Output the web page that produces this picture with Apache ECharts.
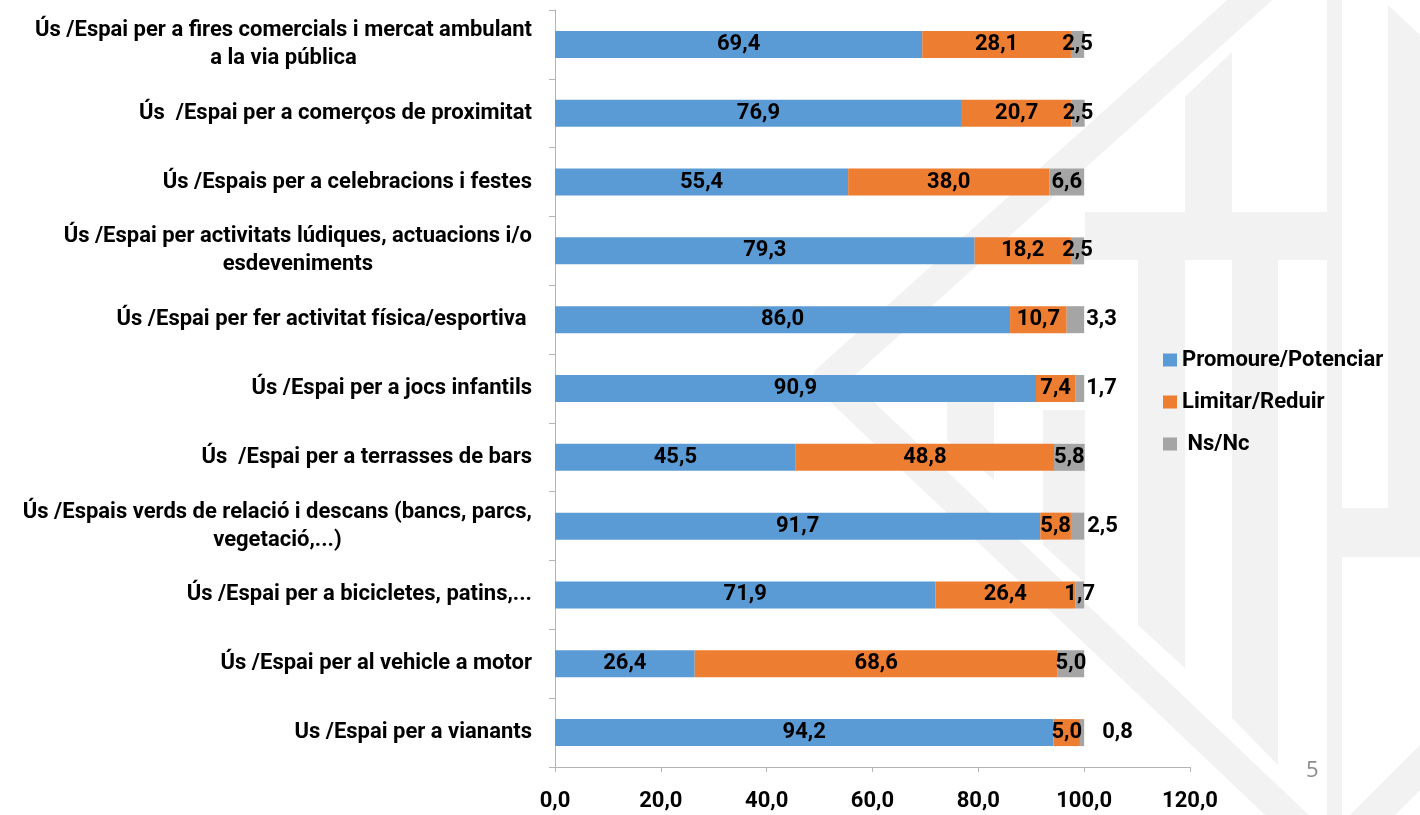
<!DOCTYPE html>
<html>
<head>
<meta charset="utf-8">
<script src="https://cdn.jsdelivr.net/npm/echarts@6/dist/echarts.min.js"></script>
<style>
  html, body { margin: 0; padding: 0; background: #fff; }
  #chart { width: 1420px; height: 815px; }
</style>
</head>
<body>
<div id="chart"></div>
<script>
// categories top to bottom
const categories = [
  'Ús /Espai per a fires comercials i mercat ambulant\na la via pública',
  'Ús  /Espai per a comerços de proximitat',
  'Ús /Espais per a celebracions i festes',
  'Ús /Espai per activitats lúdiques, actuacions i/o\nesdeveniments',
  'Ús /Espai per fer activitat física/esportiva ',
  'Ús /Espai per a jocs infantils',
  'Ús  /Espai per a terrasses de bars',
  'Ús /Espais verds de relació i descans (bancs, parcs,\nvegetació,...)',
  'Ús /Espai per a bicicletes, patins,...',
  'Ús /Espai per al vehicle a motor',
  'Us /Espai per a vianants'
];
const promoure = [69.4, 76.9, 55.4, 79.3, 86.0, 90.9, 45.5, 91.7, 71.9, 26.4, 94.2];
const limitar = [28.1, 20.7, 38.0, 18.2, 10.7, 7.4, 48.8, 5.8, 26.4, 68.6, 5.0];
const nsnc = [2.5, 2.5, 6.6, 2.5, 3.3, 1.7, 5.8, 2.5, 1.7, 5.0, 0.8];
const seriesNames = ['Promoure/Potenciar', 'Limitar/Reduir', ' Ns/Nc'];
const xTicks = [0, 20, 40, 60, 80, 100, 120];

const font = 'Roboto';
const fs = 22;
const fmt = v => Number(v).toFixed(1).replace('.', ',');

// Ns/Nc labels that sit outside the bar (index -> distance)
const outside = { 4: 2, 5: 2, 7: 3, 10: 18 };

const chart = echarts.init(document.getElementById('chart'));

const barLabel = {
  show: true,
  position: 'inside',
  color: '#000',
  fontFamily: font,
  fontWeight: 'bold',
  fontSize: fs,
  formatter: p => fmt(p.value)
};

// watermark pieces (very light grey)
const wm = '#f2f2f2';
const poly = pts => ({ type: 'polygon', z: -10, silent: true, shape: { points: pts }, style: { fill: wm } });

const option = {
  backgroundColor: '#fff',
  animation: false,
  color: ['#5b9bd5', '#ed7d31', '#a5a5a5'],
  grid: { left: 555, right: 230, top: 10, bottom: 48, containLabel: false, outerBoundsMode: 'none' },
  legend: {
    orient: 'vertical',
    left: 1158,
    top: 344,
    itemWidth: 14,
    itemHeight: 13,
    itemGap: 20,
    icon: 'rect',
    data: seriesNames,
    textStyle: { color: '#000', fontFamily: font, fontWeight: 'bold', fontSize: fs }
  },
  xAxis: {
    type: 'value',
    min: xTicks[0],
    max: xTicks[xTicks.length - 1],
    interval: xTicks[1] - xTicks[0],
    splitLine: { show: false },
    axisLine: { show: true, lineStyle: { color: '#b4b4b4', width: 1 } },
    axisTick: { show: true, length: 5, lineStyle: { color: '#b4b4b4' } },
    axisLabel: {
      margin: 23,
      color: '#000',
      fontFamily: font,
      fontWeight: 'bold',
      fontSize: fs,
      formatter: v => fmt(v)
    }
  },
  yAxis: {
    type: 'category',
    data: categories,
    inverse: true,
    axisLine: { show: true, lineStyle: { color: '#b4b4b4', width: 1 } },
    axisTick: { show: true, length: 6, lineStyle: { color: '#b4b4b4' } },
    axisLabel: {
      margin: 23,
      formatter: v => v.split('\n').map(s => '{c|' + s + '}').join('\n'),
      rich: {
        c: {
          align: 'center',
          color: '#000',
          fontFamily: font,
          fontWeight: 'bold',
          fontSize: fs,
          lineHeight: 28
        }
      }
    }
  },
  series: [
    {
      name: seriesNames[0], type: 'bar', stack: 'total', barWidth: 27,
      label: barLabel, data: promoure
    },
    {
      name: seriesNames[1], type: 'bar', stack: 'total', barWidth: 27,
      label: barLabel, data: limitar
    },
    {
      name: seriesNames[2], type: 'bar', stack: 'total', barWidth: 27,
      label: barLabel,
      data: nsnc.map((v, i) => outside[i] != null
        ? { value: v, label: { position: 'right', distance: outside[i] } }
        : v)
    }
  ],
  graphic: [
    { type: 'polyline', z: -10, silent: true,
      shape: { points: [[1272, -20], [828, 379], [1308, 835]] },
      style: { stroke: wm, lineWidth: 30, fill: null, lineJoin: 'round' } },
    { type: 'rect', z: -10, silent: true, shape: { x: 1327, y: 0, width: 15, height: 815 }, style: { fill: wm } },
    { type: 'rect', z: -10, silent: true, shape: { x: 1085, y: 212, width: 242, height: 48 }, style: { fill: wm } },
    { type: 'rect', z: -10, silent: true, shape: { x: 1342, y: 508, width: 78, height: 49 }, style: { fill: wm } },
    poly([[1185, 97], [1232, 52], [1232, 212], [1185, 212]]),
    poly([[1138, 260], [1185, 260], [1185, 668], [1138, 625]]),
    poly([[1232, 260], [1278, 260], [1278, 765], [1232, 718]]),
    poly([[1388, 5], [1420, 35], [1420, 508], [1388, 508]]),
    poly([[947, 400], [994, 400], [994, 480], [947, 440]]),
    poly([[1043, 410], [1085, 410], [1085, 583], [1043, 545]]),
    poly([[1350, 815], [1420, 745], [1420, 790], [1395, 815]]),
    // page number
    { type: 'text', left: 1306, top: 760, silent: true,
      style: { text: '5', fill: '#8c8c8c', fontFamily: 'Open Sans', fontSize: 22 } }
  ]
};

chart.setOption(option);
</script>
</body>
</html>
